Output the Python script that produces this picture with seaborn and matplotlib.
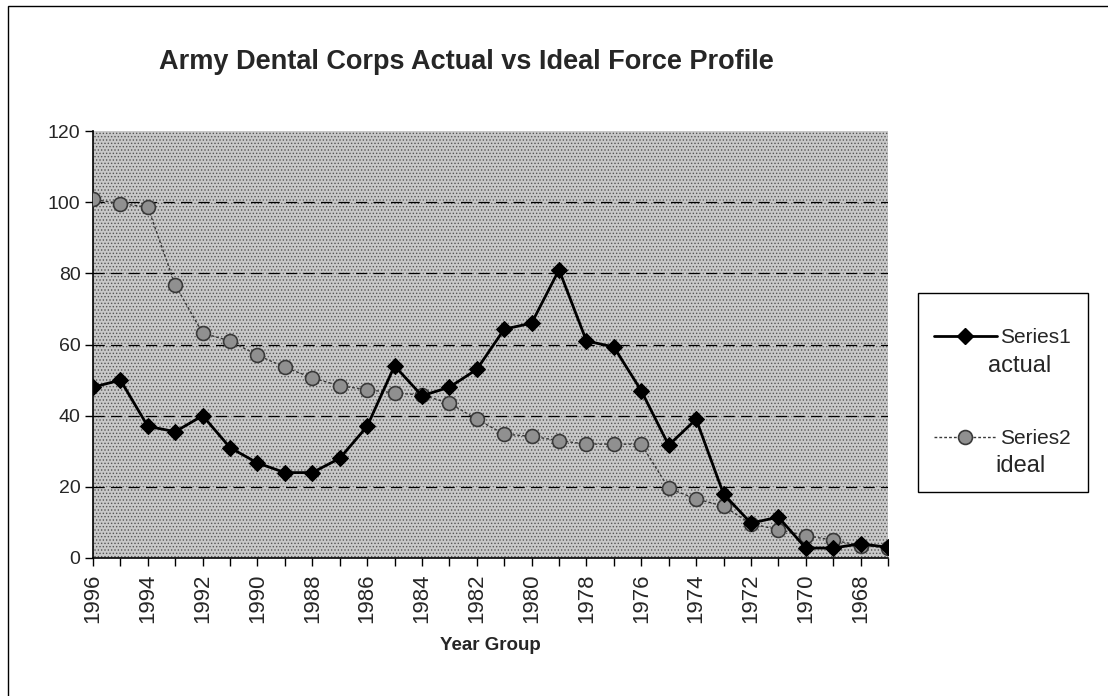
import matplotlib
matplotlib.use("Agg")
import matplotlib.pyplot as plt
from matplotlib.lines import Line2D
from matplotlib.patches import Rectangle
import seaborn as sns
import pandas as pd

years = list(range(1996, 1966, -1))
actual = [48, 50, 37, 35.5, 40, 31, 26.7, 24, 24, 28, 37, 54, 45.6, 48, 53,
          64.3, 66, 81, 61, 59.3, 47, 31.7, 39, 18, 9.8, 11.5, 2.8, 2.8, 4, 3]
ideal = [100.8, 99.6, 98.6, 76.7, 63.2, 61, 57, 53.6, 50.6, 48.4, 47.3, 46.4, 45.8, 43.5, 39,
         34.8, 34.2, 33, 32, 32, 32, 19.6, 16.6, 14.6, 9.6, 8, 6.3, 5, 3.5, 2.9]
title = "Army Dental Corps Actual vs Ideal Force Profile"
xlabel = "Year Group"
yticks = [0, 20, 40, 60, 80, 100, 120]
xtick_years = list(range(1996, 1967, -2))

df = pd.DataFrame({"year": years, "actual": actual, "ideal": ideal})

sns.set_theme(style="white")
plt.rcParams['font.family'] = ['Liberation Sans', 'DejaVu Sans']
plt.rcParams['hatch.linewidth'] = 0.6

fig = plt.figure(figsize=(11.08, 6.96), dpi=100)
ax = fig.add_axes([93/1108, 1-558/696, (888-93)/1108, (558-131)/696])

ax.set_facecolor('#c8c8c8')
ax.patch.set_hatch('.....')
ax.patch.set_edgecolor('#555555')

for v in yticks[1:-1]:
    ax.axhline(v, color='black', lw=0.9, ls=(0, (9, 5)), zorder=1)

sns.lineplot(data=df, x="year", y="ideal", ax=ax, color='#3a3a3a', lw=1.0,
             ls=(0, (2, 1.5)), marker='o', markersize=10, markerfacecolor='#909090',
             markeredgecolor='#3a3a3a', markeredgewidth=1.2, zorder=3)
sns.lineplot(data=df, x="year", y="actual", ax=ax, color='black', lw=2.0,
             marker='D', markersize=8, markerfacecolor='black',
             markeredgecolor='black', zorder=4)

ax.set_xlim(1996, 1967)
ax.set_ylim(0, 120)
ax.set_yticks(yticks)
ax.set_yticklabels([str(v) for v in yticks], fontsize=14)
ax.set_xticks(years, minor=True)
ax.set_xticks(xtick_years)
ax.set_xticklabels([str(y) for y in xtick_years], rotation=90, fontsize=16)
ax.tick_params(axis='both', which='both', direction='out', length=6, width=1,
               color='black', bottom=True, left=True)
ax.tick_params(axis='x', which='minor', length=6)
ax.tick_params(axis='x', pad=5)
ax.tick_params(axis='y', pad=3)
for s in ['top', 'right']:
    ax.spines[s].set_visible(False)
for s in ['left', 'bottom']:
    ax.spines[s].set_color('black')
    ax.spines[s].set_linewidth(1.2)
ax.set_ylabel("")
ax.set_xlabel(xlabel, fontsize=13.5, fontweight='bold', labelpad=10)

fig.text(466/1108, 1-62/696, title, ha='center', va='center', fontsize=19.5,
         fontweight='bold')

# legend
fig.patches.append(Rectangle((918/1108, 1-492/696), 170/1108, 199/696,
                             transform=fig.transFigure, facecolor='white',
                             edgecolor='black', lw=1.0))
h1 = Line2D([], [], color='black', lw=2.0, marker='D', markersize=8)
h2 = Line2D([], [], color='#3a3a3a', lw=1.0, ls=(0, (2, 1.5)), marker='o', markersize=10,
            markerfacecolor='#909090', markeredgecolor='#3a3a3a', markeredgewidth=1.2)
leg = fig.legend([h1, h2], ["Series1", "Series2"], loc='upper left',
                 bbox_to_anchor=(934/1108, 1-328/696), frameon=False, fontsize=15,
                 handlelength=3.0, handletextpad=0.15, labelspacing=3.95,
                 borderaxespad=0, borderpad=0)
fig.text(988/1108, 1-366/696, "actual", fontsize=17, ha='left', va='center')
fig.text(995/1108, 1-466/696, "ideal", fontsize=17, ha='left', va='center')

# outer border
fig.patches.append(Rectangle((8/1108, -0.1), 1.2, 1.1 - 6/696,
                             transform=fig.transFigure, fill=False,
                             edgecolor='black', lw=1.0))

fig.savefig("out.png", dpi=100)
